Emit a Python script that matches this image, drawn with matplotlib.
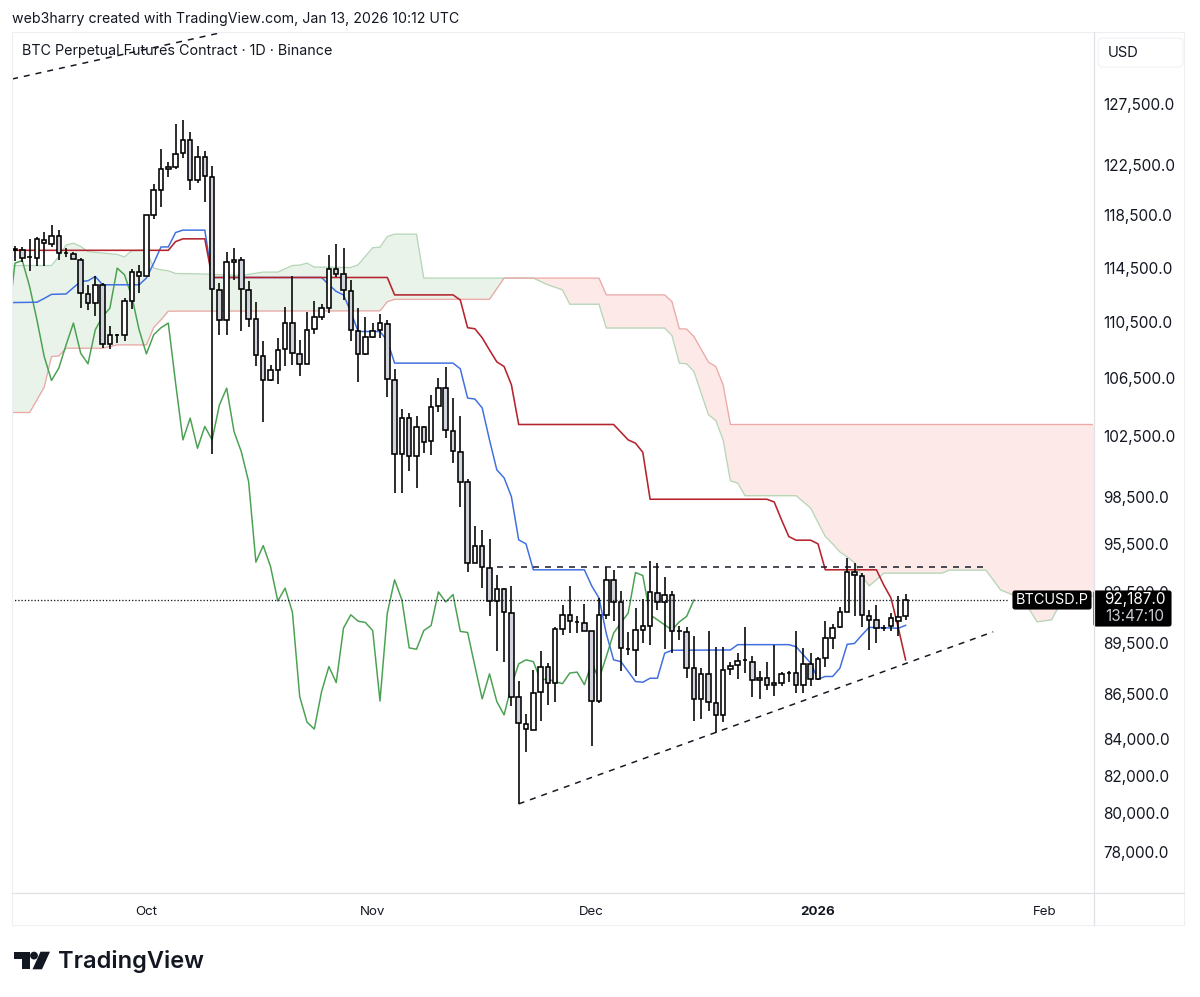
#!/usr/bin/env python3
"""BTC perpetual daily candles with Ichimoku lines and hand drawn trend lines."""

import matplotlib

matplotlib.use("Agg")
import matplotlib.pyplot as plt
import numpy as np
from matplotlib.patches import Circle, FancyBboxPatch, Polygon, Rectangle
from matplotlib.ticker import FixedFormatter, FixedLocator, NullLocator

plt.rcParams["font.family"] = ["Inter", "DejaVu Sans"]

# candles, one per day starting Sep 13
opens = [115900, 115800, 115280, 115260, 116350, 116320, 116940, 115610, 115560, 115110,
         112570, 111855, 113220, 108890, 109540, 109540, 112040, 113910, 113910, 118550,
         120500, 122160, 122370, 123440, 124530, 121280, 123120, 121540, 112840, 110650,
         114920, 115070, 112870, 110670, 108050, 106320, 107090, 108530, 110380, 108170,
         107470, 109970, 110885, 111540, 114390, 114040, 112750, 109850, 108170, 109410,
         109920, 110360, 106360, 101330, 103700, 101160, 103115, 102150, 104560, 105800,
         102860, 101440, 99450, 94330, 95370, 93990, 91960, 92720, 91285, 86340,
         84550, 84530, 86670, 88090, 87150, 90320, 91150, 90700, 90650, 90200,
         86130, 91150, 93270, 91900, 89140, 89080, 90240, 90510, 92490, 91900,
         92370, 90170, 90100, 88010, 86230, 87680, 86040, 85320, 87950, 88190,
         88470, 88390, 87440, 87440, 87150, 87150, 87720, 87730, 87030, 88250,
         87400, 88590, 89800, 90420, 91340, 93720, 93520, 91090, 90830, 90350,
         90500, 90750, 91050]
highs = [116170, 116070, 116690, 116840, 117180, 117770, 117390, 116020, 115710, 115260,
         113220, 113840, 113390, 110210, 109650, 112220, 114390, 114710, 118550, 120990,
         123810, 122720, 125830, 126180, 125170, 124060, 123620, 122420, 113345, 115710,
         115970, 115335, 113520, 111930, 109150, 107420, 109360, 111590, 113910, 109200,
         111200, 112020, 111780, 115460, 116280, 115970, 113540, 111490, 110885, 110400,
         111080, 110595, 107140, 104360, 104060, 103880, 103200, 105320, 106460, 107300,
         105130, 103880, 99650, 96600, 96390, 95790, 93580, 92760, 92900, 87270,
         85390, 87920, 89030, 88300, 90450, 91740, 92920, 91050, 91800, 90200,
         92150, 94050, 93885, 92560, 90120, 91580, 92100, 94460, 94300, 93440,
         92600, 90510, 90420, 89860, 88010, 90160, 89270, 89230, 88390, 88880,
         90420, 88720, 87820, 88390, 89360, 87780, 87860, 90160, 89170, 88910,
         88650, 90790, 90590, 91610, 94600, 94300, 93700, 91450, 91740, 90550,
         91250, 92290, 92410]
lows = [115010, 114940, 114270, 114640, 114660, 116070, 115090, 115335, 115160, 111515,
        111370, 110935, 108620, 108550, 109000, 109130, 111440, 112590, 113890, 118210,
        119165, 121520, 122130, 123040, 120510, 121040, 119570, 101290, 109560, 109560,
        113590, 109850, 110120, 107370, 103430, 106250, 106070, 107370, 107420, 106600,
        107470, 109610, 110595, 111175, 113790, 112090, 109080, 106180, 108120, 109320,
        109320, 105200, 98770, 98770, 100150, 99100, 101360, 101245, 104130, 102410,
        100700, 97870, 93780, 94310, 92760, 91090, 89010, 88390, 85850, 80500,
        83310, 84510, 85030, 85910, 86090, 89920, 90060, 90060, 90210, 83630,
        86040, 90890, 90750, 87870, 88780, 87530, 89470, 89360, 91450, 89110,
        88880, 89660, 87440, 85030, 85130, 85540, 84340, 84930, 87630, 87400,
        87730, 86380, 86230, 86760, 86430, 87010, 87190, 86570, 86610, 87010,
        87340, 88100, 89130, 90390, 91340, 91090, 90420, 89070, 89470, 90160,
        90190, 89900, 90850]
closes = [115850, 115200, 115310, 116690, 116630, 116940, 115610, 115600, 115160, 112640,
          111880, 113200, 108890, 109510, 109560, 112020, 114190, 114190, 118520, 120480,
          122130, 122350, 123360, 124550, 121280, 123120, 121600, 112900, 110650, 114920,
          115090, 112940, 110720, 108100, 106350, 107050, 108470, 110380, 108240, 107470,
          109940, 110840, 111490, 114390, 114020, 112860, 109900, 108170, 109390, 109850,
          110380, 106420, 101330, 103700, 101160, 103115, 102130, 104510, 105800, 102930,
          101510, 99490, 94330, 95370, 94030, 91960, 92720, 91310, 86380, 84920,
          84860, 86610, 88090, 87150, 90290, 91150, 90750, 90690, 90210, 86150,
          91150, 93270, 91900, 89200, 89130, 90240, 90480, 92520, 91900, 92370,
          90160, 90160, 88010, 86250, 87680, 86060, 85320, 87920, 88160, 88420,
          88480, 87300, 87300, 87030, 87030, 87670, 87730, 87030, 88250, 87380,
          88530, 89760, 90390, 91310, 93720, 93560, 91130, 90850, 90350, 90340,
          90950, 91030, 92020]

# lagging span, one value per day from the day before the first candle
chikou = [110300, 114841, 115036, 113091, 110646, 108002, 106325, 107189, 108836, 110407,
          108240, 107491, 109926, 110885, 111493, 114467, 113966, 112341, 109926, 108192,
          109560, 110070, 110407, 106143, 102250, 103725, 101690, 103156, 102250, 104627,
          105787, 102817, 101462, 99490, 94360, 95390, 94090, 91980, 92760, 91310,
          86380, 84946, 84556, 86670, 88105, 87180, 90357, 91150, 90770, 90690,
          90210, 86130, 91250, 93270, 92040, 89190, 89110, 90210, 90510, 92530,
          91920, 92370, 90160, 90100, 88130, 86250, 87680, 86100, 85350, 87000,
          88260, 88490, 88390, 87340, 87380, 87230, 87120, 87730, 87780, 87060,
          88300, 87400, 88680, 90060, 90670, 91250, 93720, 93530, 91150, 90850,
          90550, 90250, 90730, 91050, 92040]

# the other lines hold flat for long runs, so only their turning points are kept
tenkan_days = [-1, 3, 4, 5, 7, 8, 9, 10, 11, 12, 17, 18, 19, 20, 21, 22, 23, 26, 27, 42, 43,
               44, 45, 46, 47, 50, 51, 52, 60, 61, 62, 63, 64, 65, 66, 67, 68, 69, 70, 71, 78,
               79, 80, 81, 82, 83, 85, 86, 87, 88, 89, 90, 98, 99, 106, 107, 109, 110, 111,
               112, 113, 114, 115, 116, 117, 121, 122]
tenkan_values = [111900, 111930, 112210, 112510, 112540, 113010, 113465, 113520, 113840,
                 113220, 113220, 113720, 114840, 116070, 116070, 117176, 117360, 117360,
                 113764, 113764, 113220, 112730, 112470, 111225, 109799, 109799, 109130,
                 107540, 107540, 107140, 105100, 105030, 104420, 102250, 100260, 99730,
                 98510, 95750, 95500, 93885, 93885, 92900, 92160, 90030, 88490, 88390,
                 87240, 87200, 87430, 87430, 88880, 89050, 89067, 89380, 89380, 89260,
                 88300, 87380, 87530, 87530, 88010, 89400, 89450, 89940, 90400, 90350, 90520]

kijun_days = [-1, 21, 22, 23, 26, 27, 51, 52, 60, 61, 62, 63, 64, 65, 66, 67, 68, 69, 82, 84,
              85, 86, 87, 103, 104, 105, 106, 107, 109, 110, 111, 118, 119, 120, 121, 122]
kijun_values = [115814, 115814, 116479, 116690, 116690, 113764, 113764, 112470, 112470,
                112094, 110070, 109996, 109343, 108472, 107631, 107300, 106020, 103290,
                103290, 102250, 102030, 101420, 98340, 98340, 98164, 97020, 95960, 95730,
                95730, 95500, 93885, 93885, 92960, 92160, 90375, 88490]

span_a_days = [-1, 5, 6, 7, 8, 9, 10, 12, 14, 15, 16, 18, 19, 20, 21, 22, 26, 31, 34, 36, 38,
               39, 40, 41, 46, 47, 49, 50, 51, 52, 55, 56, 71, 73, 75, 76, 80, 81, 89, 90, 91,
               92, 93, 95, 96, 97, 98, 99, 100, 107, 109, 111, 112, 113, 114, 115, 116, 117,
               118, 119, 127, 128, 133, 135, 137, 139, 140, 142, 143, 146, 150]
span_a_values = [114662, 114662, 115335, 116224, 116356, 116108, 115710, 115612, 115500,
                 115312, 115784, 115836, 114467, 114340, 114265, 114064, 114020, 113914,
                 114166, 114166, 114662, 114692, 114841, 114542, 114512, 114714, 116015,
                 116046, 116866, 117052, 117052, 113719, 113719, 113220, 112844, 111783,
                 111783, 110050, 110050, 109495, 107540, 107491, 106950, 103949, 103563,
                 102254, 99537, 99385, 98570, 98570, 97764, 95960, 95500, 94992, 94685,
                 94316, 93516, 92900, 93270, 93682, 93682, 93867, 93867, 92655, 92286,
                 91446, 90732, 90851, 91684, 92225, 92348]

span_b_days = [-1, 2, 3, 4, 5, 6, 7, 12, 14, 18, 19, 20, 21, 50, 51, 52, 65, 67, 80, 81, 89,
               90, 91, 92, 93, 95, 96, 97, 98, 150]
span_b_values = [104106, 104106, 104966, 105857, 108002, 108051, 108597, 108597, 108836,
                 108836, 110089, 110646, 111276, 111298, 111971, 112146, 112146, 113719,
                 113719, 112470, 112470, 111971, 109996, 109975, 109439, 107610, 107300,
                 106020, 103290, 103290]

# hand drawn lines, as (day, price) ends
upper_trend = ([-0.4, 28.45], [129611, 133650])
lower_trend = ([69, 134], [80500, 90137])
range_top = ([66, 133], [94070, 94070])

price_ticks = [127500, 122500, 118500, 114500, 110500, 106500, 102500, 98500, 95500,
               92500, 89500, 86500, 84000, 82000, 80000, 78000]
price_labels = [f"{tick:,.1f}" for tick in price_ticks]
month_days = [18, 49, 79, 110, 141]
month_labels = ["Oct", "Nov", "Dec", "2026", "Feb"]

HEADER = "web3harry created with TradingView.com, Jan 13, 2026 10:12 UTC"
TITLE = "BTC Perpetual Futures Contract · 1D · Binance"
LAST_PRICE_LABEL = "92,187.0"
COUNTDOWN_LABEL = "13:47:10"
SYMBOL_LABEL = "BTCUSD.P"

WIDTH, HEIGHT = 1200, 997
PANE_LEFT, PANE_RIGHT, PANE_TOP, PANE_BOTTOM = 12, 1093, 32, 892
DAY_PX, FIRST_CANDLE_PX = 7.3, 15.0
# pixels per unit of log price, and the pixel row of 127,500
LOG_PX, REF_PRICE, REF_ROW = 1522.0, 127500.0, 104.0
LINE_PX = 0.72


def price_at_row(row):
    return REF_PRICE * np.exp((REF_ROW - row) / LOG_PX)


def draw_cloud(axis):
    grid = np.arange(-1, 150.01, 0.1)
    span_a = np.interp(grid, span_a_days, span_a_values)
    span_b = np.interp(grid, span_b_days, span_b_values)
    axis.fill_between(grid, span_a, span_b, where=span_a >= span_b, color="#e9f3ea", lw=0, zorder=1)
    axis.fill_between(grid, span_a, span_b, where=span_a <= span_b, color="#fde9e7", lw=0, zorder=1)
    axis.plot(span_a_days, span_a_values, color="#b5d6b7", lw=1.3 * LINE_PX, zorder=2)
    axis.plot(span_b_days, span_b_values, color="#eaa9a6", lw=1.3 * LINE_PX, zorder=2)


def draw_lines(axis):
    axis.plot(np.arange(-1, len(chikou) - 1), chikou, color="#4ba152", lw=1.5 * LINE_PX, zorder=3)
    axis.plot(tenkan_days, tenkan_values, color="#3f6fe0", lw=1.5 * LINE_PX, zorder=3)
    axis.plot(kijun_days, kijun_values, color="#b5232c", lw=1.6 * LINE_PX, zorder=3)


def draw_candles(axis):
    days = np.arange(len(opens))
    open_values = np.array(opens, dtype=float)
    close_values = np.array(closes, dtype=float)
    tops = np.maximum(open_values, close_values)
    bottoms = np.minimum(open_values, close_values)
    colors = ["#ffffff" if close >= start else "#d1d4dc" for start, close in zip(opens, closes)]
    axis.vlines(days, lows, highs, color="#000000", lw=1.6 * LINE_PX, zorder=4)
    axis.bar(days, tops - bottoms, bottom=bottoms, width=0.62, color=colors,
             edgecolor="#000000", linewidth=1.6 * LINE_PX, zorder=5)


def draw_drawings(axis):
    dash = (0, (4, 4))
    for line_days, line_prices in (upper_trend, lower_trend, range_top):
        axis.plot(line_days, line_prices, color="#131722", lw=1.5 * LINE_PX, linestyle=dash, zorder=6)
    axis.plot([-1, 136], [closes[-1], closes[-1]], color="#131722", lw=1.3 * LINE_PX,
              linestyle=(0, (1, 1.5)), zorder=6)


def draw_overlay(figure):
    overlay = figure.add_axes([0, 0, 1, 1], zorder=10)
    overlay.set_xlim(0, WIDTH)
    overlay.set_ylim(HEIGHT, 0)
    overlay.axis("off")
    overlay.patch.set_alpha(0)

    # pane frame
    outer = "#eeeff2"
    inner = "#dfe1e6"
    overlay.add_patch(Rectangle((12, 32), 1172, 893, fill=False, edgecolor=outer, lw=0.8))
    overlay.plot([12, 1184], [892.5, 892.5], color=inner, lw=0.9)
    overlay.plot([1093.5, 1093.5], [32, 925], color=inner, lw=0.9)

    overlay.text(12, 18.5, HEADER, fontsize=10.2, color="#131722", ha="left", va="center")
    overlay.text(22, 51.5, TITLE, fontsize=10.3, color="#131722", ha="left", va="center")

    overlay.add_patch(FancyBboxPatch((1098, 38), 85, 29, boxstyle="round,pad=0,rounding_size=5",
                                     fill=False, edgecolor="#f0f1f4", lw=0.8))
    overlay.text(1108, 53, "USD", fontsize=10.6, color="#131722", ha="left", va="center")

    # labels for the last price hide the tick behind them
    overlay.add_patch(FancyBboxPatch((1013, 591), 78, 18, boxstyle="round,pad=0,rounding_size=2",
                                     facecolor="#000000", edgecolor="#000000", lw=0.8))
    overlay.text(1052, 600, SYMBOL_LABEL, fontsize=10.4, color="#ffffff", ha="center", va="center")
    overlay.add_patch(FancyBboxPatch((1094, 591), 77, 35, boxstyle="round,pad=0,rounding_size=2",
                                     facecolor="#000000", edgecolor="#000000", lw=0.8))
    overlay.text(1135, 599.5, LAST_PRICE_LABEL, fontsize=11, color="#ffffff", ha="center", va="center")
    overlay.text(1135, 616, COUNTDOWN_LABEL, fontsize=11, color="#c8cad0", ha="center", va="center")

    # logo
    logo = "#131722"
    overlay.add_patch(Polygon([(14, 951.7), (30, 951.7), (30, 969.3), (22, 969.3), (22, 959.3), (14, 959.3)],
                              closed=True, facecolor=logo, edgecolor="none"))
    overlay.add_patch(Circle((34, 955.6), 3.9, facecolor=logo, edgecolor="none"))
    overlay.add_patch(Polygon([(40.5, 951.7), (50, 951.7), (42, 969.3), (32.5, 969.3)],
                              closed=True, facecolor=logo, edgecolor="none"))
    overlay.text(58, 961.5, "TradingView", fontsize=17, fontweight="semibold", color=logo,
                 ha="left", va="center")


def main():
    figure = plt.figure(figsize=(WIDTH / 100, HEIGHT / 100), dpi=100, facecolor="#ffffff")
    axis = figure.add_axes([
        PANE_LEFT / WIDTH,
        1 - PANE_BOTTOM / HEIGHT,
        (PANE_RIGHT - PANE_LEFT) / WIDTH,
        (PANE_BOTTOM - PANE_TOP) / HEIGHT,
    ])

    draw_cloud(axis)
    draw_lines(axis)
    draw_candles(axis)
    draw_drawings(axis)

    axis.set_yscale("log")
    axis.set_xlim((PANE_LEFT - FIRST_CANDLE_PX) / DAY_PX, (PANE_RIGHT - FIRST_CANDLE_PX) / DAY_PX)
    axis.set_ylim(price_at_row(PANE_BOTTOM), price_at_row(PANE_TOP))

    for spine in axis.spines.values():
        spine.set_visible(False)
    axis.yaxis.tick_right()
    axis.yaxis.set_major_locator(FixedLocator(price_ticks))
    axis.yaxis.set_major_formatter(FixedFormatter(price_labels))
    axis.yaxis.set_minor_locator(NullLocator())
    axis.tick_params(axis="y", length=0, pad=7.6, labelsize=11, labelcolor="#131722")
    axis.set_xticks(month_days, month_labels)
    axis.tick_params(axis="x", length=0, pad=10, labelsize=9.6, labelcolor="#131722")
    for label in axis.get_xticklabels():
        if label.get_text() == "2026":
            label.set_fontweight("bold")

    draw_overlay(figure)
    figure.savefig("out.png", dpi=100)
    plt.close(figure)


if __name__ == "__main__":
    main()
